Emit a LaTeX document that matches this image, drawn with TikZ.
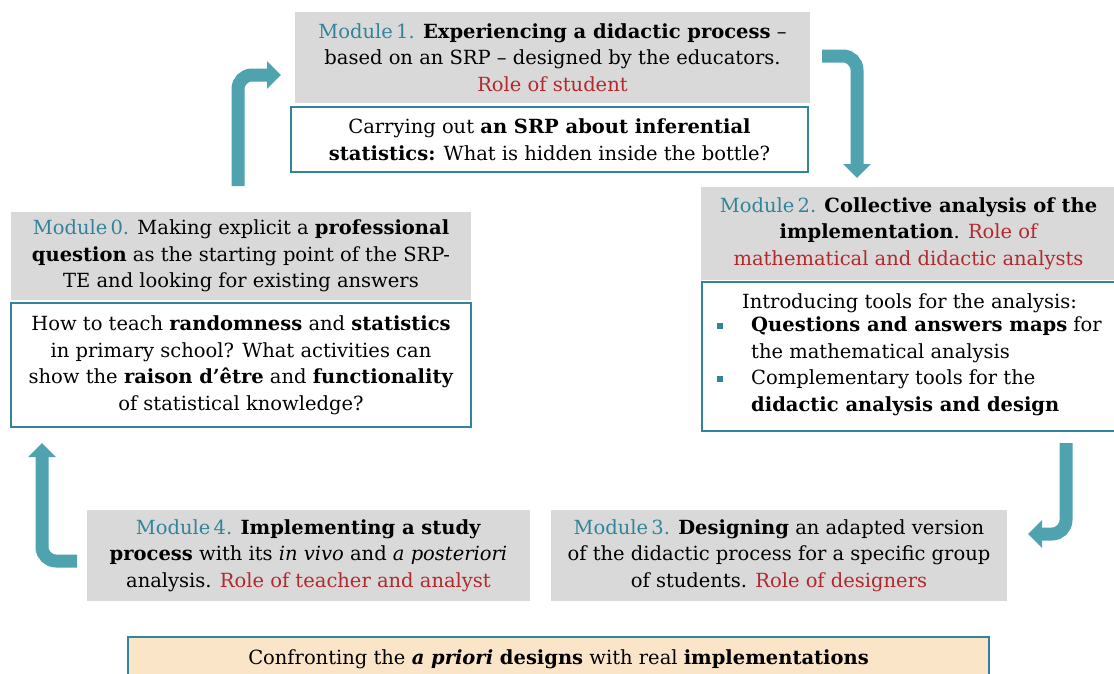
\documentclass[tikz,border=0pt]{standalone}
\usepackage{fontspec}
\setmainfont{DejaVu Serif}
\usetikzlibrary{arrows.meta}
\definecolor{modteal}{HTML}{31849B}
\definecolor{arrteal}{HTML}{4FA3AE}
\definecolor{modred}{HTML}{B3282D}
\definecolor{boxgrey}{HTML}{D9D9D9}
\definecolor{boxbeige}{HTML}{FBE5C8}
\newcommand{\modname}[1]{\textcolor{modteal}{Module\,#1.}}
\newcommand{\roletext}[1]{\textcolor{modred}{#1}}
\newcommand{\sqbul}{\textcolor{modteal}{\rule[3pt]{6pt}{6pt}}}
\begin{document}
\begin{tikzpicture}[x=1pt,y=-1pt,
    every node/.style={font=\fontsize{19.5}{26.5}\selectfont, align=center, inner sep=0pt},
    greybox/.style={fill=boxgrey},
    whitebox/.style={fill=white, draw=modteal, line width=2pt},
    bigarrow/.style={draw=arrteal, line width=13pt, rounded corners=14pt,
        -{Triangle[width=27pt,length=14pt]}}]
    \useasboundingbox (0,0) rectangle (1114,673);
    % module 1
    \node[greybox, minimum width=515pt, minimum height=91pt] (m1) at (552.5,57.5)
        {\modname{1} \textbf{Experiencing a didactic process} –\\
         based on an SRP – designed by the educators.\\
         \roletext{Role of student}};
    \node[whitebox, minimum width=517pt, minimum height=65pt] (m1q) at (549.5,139.5)
        {Carrying out \textbf{an SRP about inferential}\\
         \textbf{statistics:} What is hidden inside the bottle?};
    % module 2
    \node[greybox, minimum width=415pt, minimum height=93pt] (m2) at (908.5,233.5)
        {\modname{2} \textbf{Collective analysis of the}\\
         \textbf{implementation}. \roletext{Role of}\\
         \roletext{mathematical and didactic analysts}};
    \node[whitebox, minimum width=415pt, minimum height=149pt] (m2q) at (909.5,356.5)
        {Introducing tools for the analysis:\\[-1pt]
         \begin{tabular}{@{}p{34pt}@{}l@{}}
         \sqbul & \textbf{Questions and answers maps} for\\
                & the mathematical analysis\\
         \sqbul & Complementary tools for the\\
                & \textbf{didactic analysis and design}
         \end{tabular}};
    % module 0
    \node[greybox, minimum width=460pt, minimum height=88pt] (m0) at (241,256)
        {\modname{0} Making explicit a \textbf{professional}\\
         \textbf{question} as the starting point of the SRP-\\
         TE and looking for existing answers};
    \node[whitebox, minimum width=460pt, minimum height=124pt] (m0q) at (241,365)
        {How to teach \textbf{randomness} and \textbf{statistics}\\
         in primary school? What activities can\\
         show the \textbf{raison d’être} and \textbf{functionality}\\
         of statistical knowledge?};
    % modules 4 and 3
    \node[greybox, minimum width=443pt, minimum height=91pt] (m4) at (308.5,555.5)
        {\modname{4} \textbf{Implementing a study}\\
         \textbf{process} with its \textit{in vivo} and \textit{a posteriori}\\
         analysis. \roletext{Role of teacher and analyst}};
    \node[greybox, minimum width=456pt, minimum height=91pt] (m3) at (779,555.5)
        {\modname{3} \textbf{Designing} an adapted version\\
         of the didactic process for a specific group\\
         of students. \roletext{Role of designers}};
    % bottom
    \node[fill=boxbeige, draw=modteal, line width=2pt, minimum width=861pt, minimum height=44pt] (conf) at (558.5,659)
        {Confronting the \textbf{\textit{a priori} designs} with real \textbf{implementations}};
    % cycle arrows
    \coordinate (a1s) at (238,186); \coordinate (a1c) at (238,75); \coordinate (a1e) at (281,75);
    \coordinate (a2s) at (822,56);  \coordinate (a2c) at (857,56); \coordinate (a2e) at (857,178);
    \coordinate (a3s) at (1066,443); \coordinate (a3c) at (1066,534); \coordinate (a3e) at (1028,534);
    \coordinate (a4s) at (77,561);  \coordinate (a4c) at (42,561); \coordinate (a4e) at (42,443);
    \draw[bigarrow] (a1s) -- (a1c) -- (a1e);
    \draw[bigarrow] (a2s) -- (a2c) -- (a2e);
    \draw[bigarrow] (a3s) -- (a3c) -- (a3e);
    \draw[bigarrow] (a4s) -- (a4c) -- (a4e);
\end{tikzpicture}
\end{document}
